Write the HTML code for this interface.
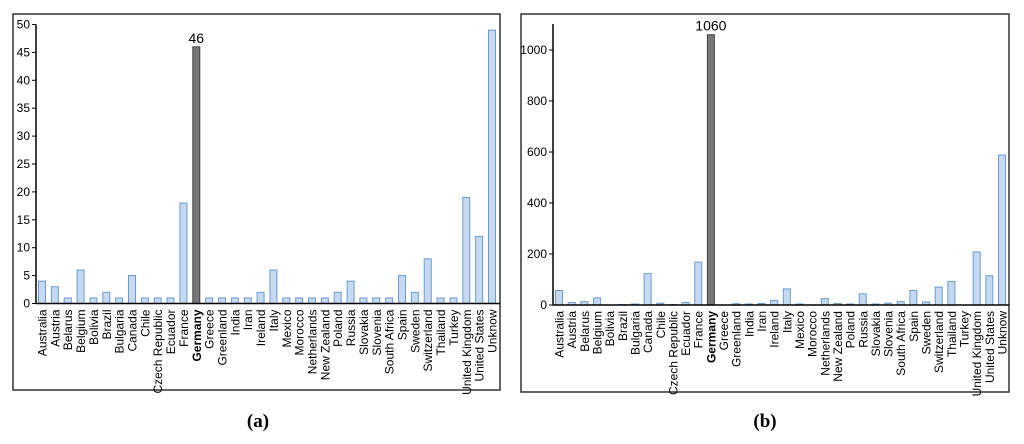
<!DOCTYPE html>
<html><head><meta charset="utf-8"><style>
html,body{margin:0;padding:0;background:#fff;}
svg{display:block;font-family:"Liberation Sans",sans-serif;}
</style></head><body>
<svg id="s" width="1024" height="444" viewBox="0 0 1024 444"></svg>
<script>
const categories=["Australia","Austria","Belarus","Belgium","Bolivia","Brazil","Bulgaria","Canada","Chile","Czech Republic","Ecuador","France","Germany","Greece","Greenland","India","Iran","Ireland","Italy","Mexico","Morocco","Netherlands","New Zealand","Poland","Russia","Slovakia","Slovenia","South Africa","Spain","Sweden","Switzerland","Thailand","Turkey","United Kingdom","United States","Unknow"];
const valuesA=[4,3,1,6,1,2,1,5,1,1,1,18,46,1,1,1,1,2,6,1,1,1,1,2,4,1,1,1,5,2,8,1,1,19,12,49];
const valuesB=[57,10,13,28,0,2,4,123,7,2,10,168,1060,0,5,4,6,18,63,4,0,25,6,4,44,4,7,13,57,12,70,92,0,208,115,588];
const ticksA=[0,5,10,15,20,25,30,35,40,45,50];
const ticksB=[0,200,400,600,800,1000];
const highlight="Germany";
const NS="http://www.w3.org/2000/svg";
const svg=document.getElementById('s');
function mk(tag,attrs,parent){const e=document.createElementNS(NS,tag);for(const k in attrs)e.setAttribute(k,attrs[k]);(parent||svg).appendChild(e);return e;}
function chart(cfg){
  const g=mk('g',{});
  
  
  const fr=mk('rect',{x:cfg.fx,y:14,width:cfg.fw,height:cfg.fh,fill:'none',stroke:'#333','stroke-width':1.5},g);
  
  
  const y=v=>cfg.y0-(v/cfg.vref)*(cfg.y0-cfg.yref);
  const x=i=>cfg.x1+i*(cfg.x2-cfg.x1)/(categories.length-1);
  cfg.ticks.forEach(t=>{
    mk('line',{x1:cfg.ax-4,x2:cfg.ax,y1:y(t),y2:y(t),stroke:'#000','stroke-width':1},g);
    const tx=mk('text',{x:cfg.ax-6,y:y(t)+4,'text-anchor':'end','font-size':12,fill:'#000'},g);
    tx.textContent=t;
    
    
  });
  const bw=7;
  cfg.values.forEach((v,i)=>{
    const hi=categories[i]===highlight;
    const r=mk('rect',{x:x(i)-bw/2,y:y(v),width:bw,height:cfg.y0-y(v),fill:hi?'#777':'#c6d9f1',stroke:hi?'#444':'#6c9bd2','stroke-width':1},g);
    
    
    if(hi){
      const lt=mk('text',{x:x(i),y:y(v)-4,'text-anchor':'middle','font-size':14,fill:'#000'},g);
      lt.textContent=v;
      
      
    }
    const lb=mk('text',{transform:`translate(${x(i)+4.5},${cfg.y0+6}) rotate(-90)`,'text-anchor':'end','font-size':12,fill:'#000','font-weight':hi?'bold':'normal'},g);
    lb.textContent=categories[i];
    
    
  });
  mk('line',{x1:cfg.ax,x2:cfg.ax,y1:cfg.atop,y2:cfg.y0,stroke:'#000','stroke-width':1.5},g);
  mk('line',{x1:cfg.ax,x2:cfg.fx+cfg.fw,y1:cfg.y0,y2:cfg.y0,stroke:'#000','stroke-width':1.5},g);
  const cap=mk('text',{x:cfg.cx,y:427,'text-anchor':'middle','font-size':19,'font-weight':'bold','font-family':'Liberation Serif, serif'},g);
  cap.textContent=cfg.caption;
  
  
}
chart({name:'chart-a',fx:13,fw:487,fh:376,ax:36,atop:24.5,y0:303.5,yref:24.5,vref:50,x1:42,x2:492,values:valuesA,ticks:ticksA,caption:'(a)',cx:258});
chart({name:'chart-b',fx:521,fw:488,fh:378,ax:553,atop:24,y0:305,yref:50,vref:1000,x1:559,x2:1002,values:valuesB,ticks:ticksB,caption:'(b)',cx:765});
</script>
</body></html>
